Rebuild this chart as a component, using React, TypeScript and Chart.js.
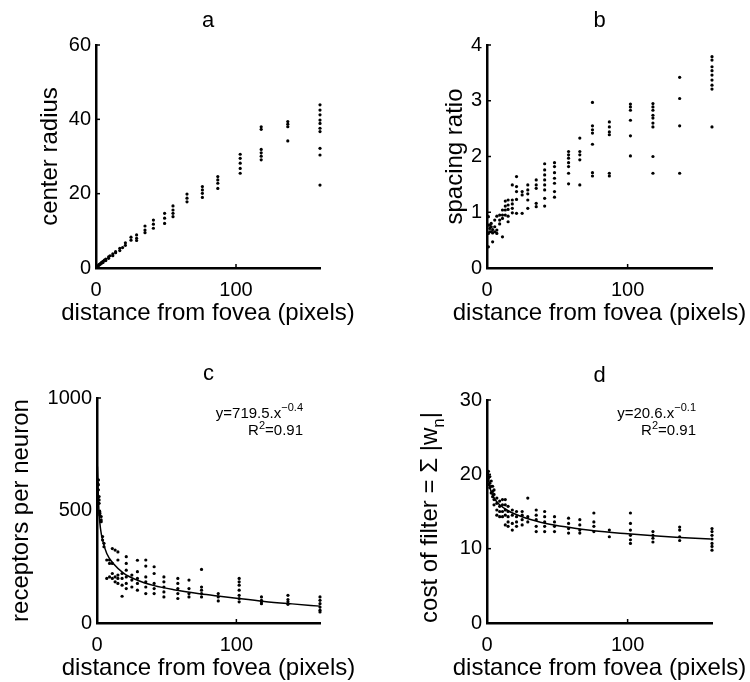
import React, { useEffect, useRef } from "react";
import { Chart, registerables } from "chart.js";

Chart.register(...registerables);

const W = 750;
const H = 682;
const FONT = "'Liberation Sans', Arial, Helvetica, sans-serif";

// ---------- shared ----------
const X_TICKS = [0, 100];
const X_MAX = 160;
const X_LABEL = "distance from fovea (pixels)";

// ---------- panel a: center radius ----------
const A_DIST = [0.5, 1, 2, 3, 4, 5, 6, 7, 9, 10, 12, 14, 17, 19, 21, 25, 29, 35, 41, 49, 55, 65, 76, 87, 103, 118, 137, 160];
const A_RADIUS = [
  [0.3], [0.5, 0.4], [0.9, 0.7], [1.2, 1.0], [1.5, 1.3], [1.8, 1.5], [2.1], [2.4, 2.0], [3.0, 2.6], [3.3],
  [3.8, 3.3], [4.4, 4.1], [5.3, 4.7], [5.5], [6.8, 6.1], [8.3, 7.5], [8.9, 8.0, 7.4], [11.3, 10.2, 9.5],
  [12.9, 11.8, 10.7], [14.7, 13.4, 12.0], [16.7, 15.6, 14.7, 13.8], [19.9, 18.8, 17.8], [21.9, 21.0, 20.1, 19.0],
  [24.6, 23.7, 22.8, 21.4], [30.6, 29.5, 28.2, 26.8, 25.5], [38.0, 37.3, 31.9, 31.0, 30.1, 29.1],
  [39.4, 38.7, 38.0, 34.2], [43.9, 42.5, 41.2, 39.8, 38.9, 37.6, 36.7, 32.2, 30.4, 22.3],
];
const A_Y_TICKS = [0, 20, 40, 60];

// ---------- panel b: spacing ratio ----------
const B_DIST = [1, 2, 3, 4, 5.5, 7, 9, 11, 13, 15, 18, 21, 25, 29, 35, 41, 48, 58, 66, 75, 87, 102, 118, 137, 160];
const B_RATIO = [
  [0.92, 0.77, 0.62, 0.38], [0.77, 0.71, 0.65], [0.8, 0.74, 0.65], [0.69, 0.63, 0.47], [0.86, 0.74, 0.65],
  [0.93, 0.68, 0.62], [0.95, 0.86, 0.79], [1.04, 0.95, 0.89, 0.56], [1.2, 1.11, 1.04, 0.95],
  [1.22, 1.13, 1.05, 0.93, 0.83], [1.49, 1.22, 1.15, 1.07, 0.99], [1.64, 1.46, 1.37, 1.23, 0.98],
  [1.37, 1.31, 0.98], [1.49, 1.4, 1.33, 1.22, 1.07], [1.58, 1.49, 1.43, 1.16, 1.1],
  [1.87, 1.76, 1.67, 1.58, 1.49, 1.4, 1.25, 1.11], [1.89, 1.82, 1.71, 1.61, 1.52, 1.37, 1.27],
  [2.09, 2.03, 1.97, 1.89, 1.82, 1.7, 1.51], [2.33, 2.09, 2.03, 1.94, 1.49],
  [2.97, 2.55, 2.48, 2.42, 2.22, 1.71, 1.65], [2.62, 2.53, 2.44, 2.39, 1.7, 1.65],
  [2.94, 2.89, 2.83, 2.65, 2.37, 2.01], [2.95, 2.89, 2.83, 2.74, 2.69, 2.6, 2.53, 2.0, 1.7],
  [3.42, 3.04, 2.55, 1.7], [3.79, 3.73, 3.61, 3.54, 3.46, 3.37, 3.28, 3.21, 2.53],
];
const B_Y_TICKS = [0, 1, 2, 3, 4];

// ---------- panel c: receptors per neuron ----------
const C_DIST = [0.5, 1, 1.5, 2, 3, 4, 5, 7, 9, 11, 13, 15, 18, 21, 25, 29, 35, 41, 48, 58, 66, 75, 87, 102, 118, 137, 160];
const C_RECEPT = [
  [621, 592], [636, 614, 592], [562, 547, 532], [495, 488, 480], [473, 458, 450], [384, 369], [354, 339],
  [280, 198], [280, 265, 205], [331, 265, 220, 198], [324, 205, 183], [316, 280, 213, 198, 176],
  [220, 198, 168, 119], [295, 265, 235, 205, 176, 153], [213, 191, 160], [279, 228, 198, 176, 146],
  [280, 253, 205, 183, 160, 131], [250, 220, 176, 153, 131], [205, 183, 160, 138, 116],
  [198, 176, 153, 131, 109], [191, 153, 131, 116], [238, 160, 146, 131, 116], [131, 116, 98],
  [198, 183, 168, 146, 123, 109, 94], [116, 101, 94, 86], [123, 104, 94, 83], [116, 101, 86, 71, 57, 49],
];
const C_FIT_X = [0.3, 1, 1.5, 2.5, 4, 7, 12, 19, 29, 41, 55, 74, 88, 100, 120, 140, 160];
const C_FIT_Y = [695, 560, 487, 420, 368, 309, 262, 222, 190, 166, 148, 130, 119, 110, 96, 85, 75];
const C_Y_TICKS = [0, 500, 1000];

// ---------- panel d: cost of filter ----------
const D_DIST = [0.5, 1, 2, 3, 4, 5, 7, 9, 11, 13, 15, 18, 21, 25, 29, 35, 41, 48, 58, 66, 76, 87, 102, 118, 137, 160];
const D_COST = [
  [20.0, 19.1], [20.4, 19.5, 18.6], [19.7, 18.8, 18.2], [19.1, 18.4, 17.5], [18.4, 17.7, 17.0],
  [17.9, 17.3, 16.6, 15.9], [16.8, 16.1, 15.2, 14.5], [16.4, 15.7, 15.0, 14.3], [16.6, 15.9, 15.0, 14.3],
  [16.6, 15.9, 15.2, 14.5, 13.2], [15.7, 15.0, 14.3, 13.6, 13.0], [15.2, 14.5, 13.4, 12.5],
  [15.0, 14.3, 13.6, 13.0], [15.0, 14.5, 13.9, 13.2], [16.8, 14.3, 13.6], [15.2, 14.5, 13.9, 13.0, 12.3],
  [15.0, 14.3, 13.6, 13.0, 12.3], [14.3, 13.6, 13.0, 12.3], [14.1, 13.4, 12.7, 12.1], [13.9, 13.2, 12.5, 12.1],
  [14.8, 13.6, 13.0, 12.3], [12.5, 11.6], [14.8, 13.4, 12.5, 11.8, 11.2, 10.7], [12.3, 11.8, 11.4, 10.9],
  [12.9, 12.5, 11.6, 11.1], [12.7, 12.3, 11.8, 11.3, 10.7, 10.3, 9.8],
];
const D_FIT_X = [0.5, 1, 2, 4.5, 9, 16, 28, 42, 57, 76, 100, 121, 137, 159];
const D_FIT_Y = [20.3, 19.7, 18.3, 17.0, 15.9, 15.0, 14.1, 13.4, 12.9, 12.4, 12.0, 11.7, 11.5, 11.3];
const D_Y_TICKS = [0, 10, 20, 30];

type Seg = { text: string; size?: number; dy?: number };

interface PanelCfg {
  id: string;
  title: string;
  area: { l: number; t: number; r: number; b: number };
  dist: number[];
  vals: number[][];
  yMax: number;
  yTicks: number[];
  yLabel: Seg[];
  yLabelX: number;
  yLabelDy: number;
  fitX?: number[];
  fitY?: number[];
  eq?: { lines: Seg[][]; rightInset: number; baselines: number[] };
}

const PANELS: PanelCfg[] = [
  {
    id: "a", title: "a", area: { l: 96, t: 45, r: 320, b: 268 },
    dist: A_DIST, vals: A_RADIUS, yMax: 60, yTicks: A_Y_TICKS,
    yLabel: [{ text: "center radius" }], yLabelX: 57, yLabelDy: 0,
  },
  {
    id: "b", title: "b", area: { l: 487, t: 45, r: 712, b: 268 },
    dist: B_DIST, vals: B_RATIO, yMax: 4, yTicks: B_Y_TICKS,
    yLabel: [{ text: "spacing ratio" }], yLabelX: 462, yLabelDy: 0,
  },
  {
    id: "c", title: "c", area: { l: 97, t: 398, r: 320, b: 623 },
    dist: C_DIST, vals: C_RECEPT, yMax: 1000, yTicks: C_Y_TICKS,
    yLabel: [{ text: "receptors per neuron" }], yLabelX: 28, yLabelDy: 0,
    fitX: C_FIT_X, fitY: C_FIT_Y,
    eq: {
      lines: [
        [{ text: "y=719.5.x" }, { text: "\u22120.4", size: 11, dy: -7 }],
        [{ text: "R" }, { text: "2", size: 11, dy: -6 }, { text: "=0.91" }],
      ],
      rightInset: 17, baselines: [20, 37],
    },
  },
  {
    id: "d", title: "d", area: { l: 487, t: 400, r: 712, b: 623 },
    dist: D_DIST, vals: D_COST, yMax: 30, yTicks: D_Y_TICKS,
    yLabel: [{ text: "cost of filter = \u03A3 |w" }, { text: "n", size: 17, dy: 7 }, { text: "|" }],
    yLabelX: 437, yLabelDy: 6,
    fitX: D_FIT_X, fitY: D_FIT_Y,
    eq: {
      lines: [
        [{ text: "y=20.6.x" }, { text: "\u22120.1", size: 11, dy: -7 }],
        [{ text: "R" }, { text: "2", size: 11, dy: -6 }, { text: "=0.91" }],
      ],
      rightInset: 16, baselines: [18, 35],
    },
  },
];

function drawSegs(ctx: CanvasRenderingContext2D, segs: Seg[], x: number, y: number, align: string, base: number) {
  const widths = segs.map((s) => {
    ctx.font = `${s.size ?? base}px ${FONT}`;
    return ctx.measureText(s.text).width;
  });
  const total = widths.reduce((a, b) => a + b, 0);
  let cx = align === "left" ? x : align === "center" ? x - total / 2 : x - total;
  ctx.textAlign = "left";
  ctx.textBaseline = "alphabetic";
  segs.forEach((s, i) => {
    ctx.font = `${s.size ?? base}px ${FONT}`;
    ctx.fillText(s.text, cx, y + (s.dy ?? 0));
    cx += widths[i];
  });
}

function makeChart(canvas: HTMLCanvasElement, p: PanelCfg) {
  const points = p.dist.flatMap((d, i) => p.vals[i].map((v) => ({ x: d, y: v })));
  const datasets: any[] = [
    {
      type: "scatter",
      data: points,
      pointRadius: 1.6,
      pointBackgroundColor: "#000",
      pointBorderWidth: 0,
      showLine: false,
      clip: false,
    },
  ];
  if (p.fitX && p.fitY) {
    datasets.push({
      type: "line",
      data: p.fitX.map((x, i) => ({ x, y: p.fitY![i] })),
      borderColor: "#000",
      borderWidth: 1.5,
      pointRadius: 0,
      fill: false,
      cubicInterpolationMode: "monotone",
      clip: false,
    });
  }

  const textPlugin = {
    id: "text-" + p.id,
    afterDraw(chart: any) {
      const { ctx, chartArea: ca } = chart;
      const xs = chart.scales.x;
      const ys = chart.scales.y;
      ctx.save();
      ctx.fillStyle = "#000";
      ctx.strokeStyle = "#000";
      ctx.lineWidth = 1.5;
      // inward tick marks
      p.yTicks.forEach((v) => {
        const py = ys.getPixelForValue(v);
        ctx.beginPath();
        ctx.moveTo(ca.left, py);
        ctx.lineTo(ca.left + 4, py);
        ctx.stroke();
      });
      X_TICKS.forEach((v) => {
        const px = xs.getPixelForValue(v);
        ctx.beginPath();
        ctx.moveTo(px, ca.bottom);
        ctx.lineTo(px, ca.bottom - 4);
        ctx.stroke();
      });
      // tick labels
      ctx.font = `20px ${FONT}`;
      ctx.textAlign = "right";
      ctx.textBaseline = "middle";
      p.yTicks.forEach((v) => ctx.fillText(String(v), ca.left - 5, ys.getPixelForValue(v)));
      ctx.textAlign = "center";
      ctx.textBaseline = "alphabetic";
      X_TICKS.forEach((v) => ctx.fillText(String(v), xs.getPixelForValue(v), ca.bottom + 28));
      // x label
      drawSegs(ctx, [{ text: X_LABEL }], (ca.left + ca.right) / 2, ca.bottom + 52, "center", 24);
      // title
      drawSegs(ctx, [{ text: p.title }], (ca.left + ca.right) / 2, ca.top - 18, "center", 22);
      // y label
      ctx.save();
      ctx.translate(p.yLabelX, (ca.top + ca.bottom) / 2 + p.yLabelDy);
      ctx.rotate(-Math.PI / 2);
      drawSegs(ctx, p.yLabel, 0, 0, "center", 24);
      ctx.restore();
      // equation
      if (p.eq) {
        p.eq.lines.forEach((line, i) => {
          drawSegs(ctx, line, ca.right - p.eq!.rightInset, ca.top + p.eq!.baselines[i], "right", 15);
        });
      }
      ctx.restore();
    },
  };

  return new Chart(canvas, {
    type: "scatter",
    data: { datasets },
    options: {
      responsive: false,
      animation: false,
      devicePixelRatio: 1,
      layout: { padding: { left: p.area.l, top: p.area.t, right: W - p.area.r, bottom: H - p.area.b } },
      plugins: { legend: { display: false }, tooltip: { enabled: false }, title: { display: false } },
      scales: {
        x: {
          type: "linear",
          min: 0,
          max: X_MAX,
          grid: { display: false, drawTicks: false },
          border: { display: true, color: "#000", width: 2.5 },
          ticks: { display: false },
          afterFit: (s: any) => { s.height = 0; },
        },
        y: {
          type: "linear",
          min: 0,
          max: p.yMax,
          grid: { display: false, drawTicks: false },
          border: { display: true, color: "#000", width: 2.5 },
          ticks: { display: false },
          afterFit: (s: any) => { s.width = 0; },
        },
      },
    } as any,
    plugins: [textPlugin],
  });
}

export default function App() {
  const refs = useRef<(HTMLCanvasElement | null)[]>([]);
  useEffect(() => {
    const charts = PANELS.map((p, i) => makeChart(refs.current[i] as HTMLCanvasElement, p));
    return () => charts.forEach((c) => c.destroy());
  }, []);
  return (
    <div style={{ position: "absolute", left: 0, top: 0, width: W, height: H, background: "#fff" }}>
      {PANELS.map((p, i) => (
        <canvas
          key={p.id}
          ref={(el) => { refs.current[i] = el; }}
          width={W}
          height={H}
          style={{ position: "absolute", left: 0, top: 0, width: W, height: H }}
        />
      ))}
    </div>
  );
}
